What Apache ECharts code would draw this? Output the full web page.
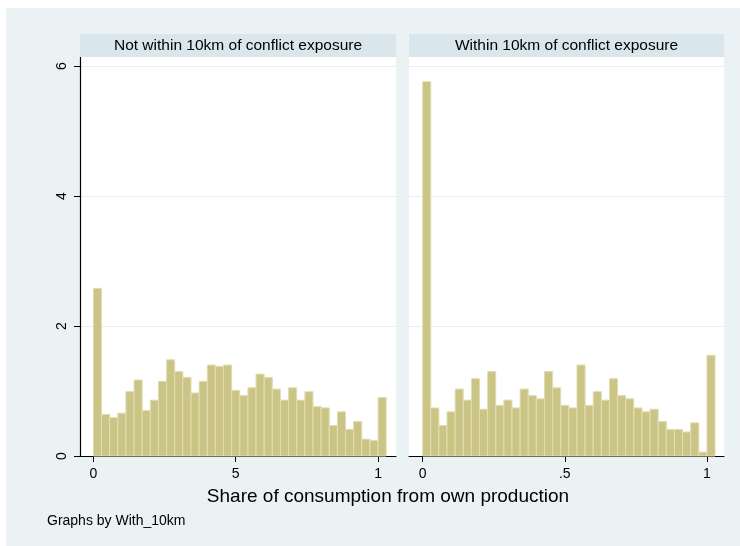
<!DOCTYPE html>
<html>
<head>
<meta charset="utf-8">
<title>Share of consumption from own production</title>
<script src="https://cdn.jsdelivr.net/npm/echarts@6/dist/echarts.min.js"></script>
<style>
  html, body { margin: 0; padding: 0; background: #ffffff; }
  #chart { width: 740px; height: 546px; }
</style>
</head>
<body>
<div id="chart"></div>
<script>
// Histogram bins: 36 bins of width 1/35 starting at 0 (density scale)
const binWidth = 1 / 35;

const panelTitles = ['Not within 10km of conflict exposure', 'Within 10km of conflict exposure'];

// Density per bin, households not within 10km of conflict exposure
const densityNotWithin = [
  2.58, 0.64, 0.59, 0.66, 0.99, 1.17, 0.70, 0.86, 1.15, 1.48,
  1.30, 1.21, 0.97, 1.15, 1.40, 1.38, 1.40, 1.01, 0.93, 1.05,
  1.26, 1.21, 1.03, 0.86, 1.05, 0.86, 0.99, 0.76, 0.74, 0.47,
  0.68, 0.41, 0.53, 0.26, 0.24, 0.90
];

// Density per bin, households within 10km of conflict exposure
const densityWithin = [
  5.76, 0.74, 0.47, 0.68, 1.03, 0.86, 1.19, 0.72, 1.30, 0.78,
  0.86, 0.74, 1.03, 0.93, 0.88, 1.30, 1.05, 0.78, 0.74, 1.40,
  0.78, 0.99, 0.86, 1.19, 0.93, 0.88, 0.74, 0.68, 0.72, 0.53,
  0.41, 0.41, 0.37, 0.51, 0.06, 1.55
];

const xTickValues = [0, 0.5, 1];
const xTickLabelsLeft = ['0', '5', '1'];
const xTickLabelsRight = ['0', '.5', '1'];
const yTickValues = [0, 2, 4, 6];
const yTickLabels = ['0', '2', '4', '6'];

const xTitle = 'Share of consumption from own production';
const note = 'Graphs by With_10km';

const FONT = '"Liberation Sans", Arial, Helvetica, sans-serif';
const BAR_FILL = '#CBC487';
const BAR_EDGE = '#E2DEB0';
const BG = '#EAF2F3';
const STRIP = '#D9E6EB';
const GRID_LINE = '#E6EFF2';
const INK = '#000000';

// Plot regions of the two panels (pixels)
const PANEL_TOP = 57, PANEL_HEIGHT = 399;
const LEFT_PANEL = { left: 80, width: 316 };
const RIGHT_PANEL = { left: 409, width: 315 };

function binData(values) {
  return values.map((h, i) => [i * binWidth, (i + 1) * binWidth, h]);
}

function renderBin(params, api) {
  const start = api.coord([api.value(0), api.value(2)]);
  const end = api.coord([api.value(1), 0]);
  return {
    type: 'rect',
    shape: { x: start[0], y: start[1], width: end[0] - start[0], height: end[1] - start[1] },
    style: { fill: BAR_FILL, stroke: BAR_EDGE, lineWidth: 1 }
  };
}

function xAxisFor(gridIndex, labels, min, max) {
  return {
    type: 'value', gridIndex, min, max,
    axisLine: { show: true, onZero: false, lineStyle: { color: '#000', width: 1 } },
    axisTick: { show: true, length: 6, customValues: xTickValues, lineStyle: { color: '#000', width: 1 } },
    axisLabel: {
      show: true, customValues: xTickValues, margin: 11,
      fontFamily: FONT, fontSize: 14, color: INK,
      formatter: v => labels[xTickValues.indexOf(v)] ?? ''
    },
    splitLine: { show: false }
  };
}

function yAxisFor(gridIndex, visible) {
  return {
    type: 'value', gridIndex, min: 0, max: 6.14, interval: 2,
    axisLine: { show: visible, onZero: false, lineStyle: { color: '#000', width: 1.2 } },
    axisTick: { show: visible, length: 6, customValues: yTickValues, lineStyle: { color: '#000', width: 1 } },
    axisLabel: {
      show: visible, customValues: yTickValues, rotate: 90, margin: 11,
      fontFamily: FONT, fontSize: 14, color: INK,
      formatter: v => yTickLabels[yTickValues.indexOf(v)] ?? ''
    },
    splitLine: { show: true, lineStyle: { color: GRID_LINE, width: 1 } }
  };
}

const chart = echarts.init(document.getElementById('chart'), null, { renderer: 'canvas' });

chart.setOption({
  animation: false,
  backgroundColor: '#ffffff',
  grid: [
    { left: LEFT_PANEL.left, top: PANEL_TOP, width: LEFT_PANEL.width, height: PANEL_HEIGHT, show: true, backgroundColor: '#ffffff', borderWidth: 0 },
    { left: RIGHT_PANEL.left, top: PANEL_TOP, width: RIGHT_PANEL.width, height: PANEL_HEIGHT, show: true, backgroundColor: '#ffffff', borderWidth: 0 }
  ],
  xAxis: [
    xAxisFor(0, xTickLabelsLeft, -0.047, 1.063),
    xAxisFor(1, xTickLabelsRight, -0.048, 1.06)
  ],
  yAxis: [yAxisFor(0, true), yAxisFor(1, false)],
  graphic: [
    { type: 'rect', z: -10, silent: true, shape: { x: 6, y: 8, width: 734, height: 538 }, style: { fill: BG } },
    { type: 'rect', z: 1, shape: { x: LEFT_PANEL.left, y: 34, width: LEFT_PANEL.width, height: 23 }, style: { fill: STRIP } },
    { type: 'rect', z: 1, shape: { x: RIGHT_PANEL.left, y: 34, width: RIGHT_PANEL.width, height: 23 }, style: { fill: STRIP } },
    { type: 'text', z: 2, x: 238, y: 46, style: { text: panelTitles[0], font: '15.5px ' + FONT, fill: INK, textAlign: 'center', textVerticalAlign: 'middle' } },
    { type: 'text', z: 2, x: 566.5, y: 46, style: { text: panelTitles[1], font: '15.5px ' + FONT, fill: INK, textAlign: 'center', textVerticalAlign: 'middle' } },
    { type: 'text', z: 2, x: 388, y: 497, style: { text: xTitle, font: '19px ' + FONT, fill: INK, textAlign: 'center', textVerticalAlign: 'middle' } },
    { type: 'text', z: 2, x: 47, y: 521, style: { text: note, font: '14px ' + FONT, fill: INK, textAlign: 'left', textVerticalAlign: 'middle' } }
  ],
  series: [
    { type: 'custom', xAxisIndex: 0, yAxisIndex: 0, renderItem: renderBin, data: binData(densityNotWithin), encode: { x: [0, 1], y: 2 } },
    { type: 'custom', xAxisIndex: 1, yAxisIndex: 1, renderItem: renderBin, data: binData(densityWithin), encode: { x: [0, 1], y: 2 } }
  ]
});
</script>
</body>
</html>
